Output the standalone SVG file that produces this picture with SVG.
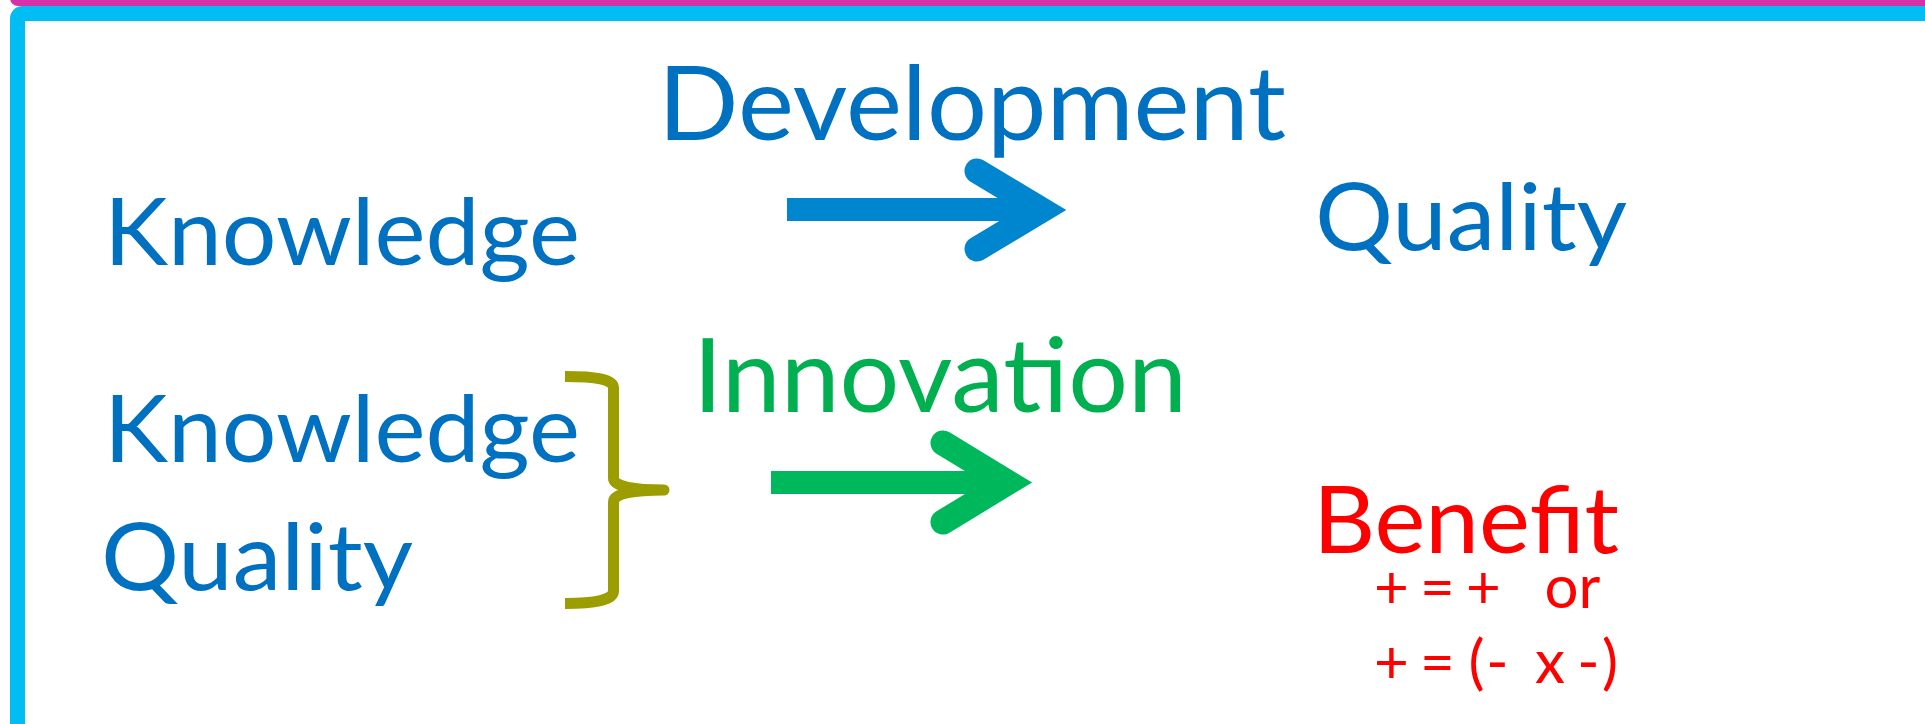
<svg xmlns="http://www.w3.org/2000/svg" width="1925" height="724" viewBox="0 0 1925 724">
<style>
.t{font-family:Lato,"Open Sans","Liberation Sans",sans-serif;}
.blue{fill:#0070C0;}
.green{fill:#00B050;}
.red{fill:#FF0000;}
.big{font-size:94px;}
.huge{font-size:102px;}
.small{font-size:60px;}
</style>
<rect x="0" y="0" width="1925" height="724" fill="#FFFFFF"/>
<g id="frame">
<rect x="10" y="-30" width="2000" height="36" rx="8" fill="#D631A9"/>
<rect x="17.5" y="13.5" width="2000" height="720" rx="5" fill="#FFFFFF" stroke="#00BEF3" stroke-width="15"/>
</g>
<g id="connectors">
<g id="arrow-development" fill="none" stroke="#0085CF">
<line x1="787" y1="209.5" x2="1030" y2="209.5" stroke-width="23"/>
<polyline points="977,171 1042,210 977,249" stroke-width="25" stroke-linecap="round" stroke-linejoin="miter"/>
</g>
<g id="arrow-innovation" fill="none" stroke="#00B85C">
<line x1="771" y1="482.5" x2="995" y2="482.5" stroke-width="23"/>
<polyline points="943,443 1008,482.5 943,522" stroke-width="25" stroke-linecap="round" stroke-linejoin="miter"/>
</g>
<path id="brace" d="M565,376.5 C595,376.5 613.5,379 613.5,388 L613.5,478 C613.5,487 635,490 664,490 C635,490 613.5,493 613.5,502 L613.5,591 C613.5,600 595,603.5 565,603.5" fill="none" stroke="#9B9D00" stroke-width="11" stroke-linejoin="round"/>
</g>
<g id="knowledge1"><text class="t blue big" x="104" y="265" textLength="476" lengthAdjust="spacingAndGlyphs">Knowledge</text></g>
<g id="development"><text class="t blue huge" x="658" y="140" textLength="628" lengthAdjust="spacingAndGlyphs">Development</text></g>
<g id="quality1"><text class="t blue big" x="1315" y="250" textLength="312" lengthAdjust="spacingAndGlyphs">Quality</text></g>
<g id="knowledge2"><text class="t blue big" x="104" y="462" textLength="476" lengthAdjust="spacingAndGlyphs">Knowledge</text></g>
<g id="quality2"><text class="t blue big" x="101" y="590" textLength="312" lengthAdjust="spacingAndGlyphs">Quality</text></g>
<g id="innovation"><text class="t green huge" x="693" y="412" textLength="494" lengthAdjust="spacingAndGlyphs">Innovation</text></g>
<g id="benefit"><text class="t red big" x="1313" y="553" textLength="306" lengthAdjust="spacingAndGlyphs">Benefit</text></g>
<g id="formula">
<text class="t red small" y="608" text-anchor="middle"><tspan x="1391.5">+</tspan><tspan x="1437.5">=</tspan><tspan x="1483.5">+</tspan><tspan x="1572.5">or</tspan></text>
<text class="t red small" y="683" text-anchor="middle"><tspan x="1391.5">+</tspan><tspan x="1437.5">=</tspan><tspan x="1476.5">(</tspan><tspan x="1497.5">-</tspan><tspan x="1550">x</tspan><tspan x="1588.5">-</tspan><tspan x="1610">)</tspan></text>
</g>
</svg>
